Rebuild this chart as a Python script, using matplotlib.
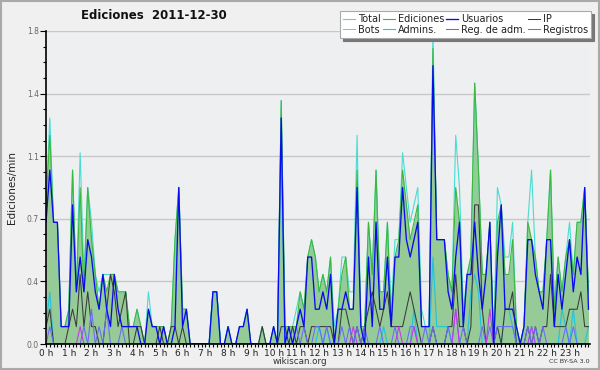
import numpy as np
import matplotlib
matplotlib.use('Agg')
import matplotlib.pyplot as plt
from matplotlib.patches import Rectangle
from matplotlib.ticker import AutoMinorLocator, MultipleLocator

# one value per 10 minutes, edits per minute (144 bins, 6 per row = 1 hour)
total = [0.8, 1.3, 0.7, 0.7, 0.1, 0.1,
         0.2, 1.0, 0.3, 1.1, 0.4, 0.9,
         0.7, 0.4, 0.3, 0.4, 0.4, 0.4,
         0.4, 0.3, 0.3, 0.3, 0.1, 0.1,
         0.2, 0.1, 0.0, 0.3, 0.1, 0.1,
         0.1, 0.1, 0.0, 0.1, 0.6, 0.9,
         0.2, 0.2, 0.0, 0.0, 0.0, 0.0,
         0.0, 0.0, 0.3, 0.3, 0.0, 0.0,
         0.1, 0.0, 0.0, 0.1, 0.1, 0.2,
         0.0, 0.0, 0.0, 0.1, 0.0, 0.0,
         0.1, 0.0, 1.4, 0.1, 0.1, 0.1,
         0.2, 0.3, 0.2, 0.5, 0.6, 0.5,
         0.3, 0.4, 0.3, 0.5, 0.1, 0.2,
         0.5, 0.5, 0.3, 0.3, 1.2, 0.1,
         0.1, 0.7, 0.4, 1.0, 0.3, 0.3,
         0.7, 0.2, 0.6, 0.6, 1.1, 0.9,
         0.7, 0.8, 0.9, 0.2, 0.1, 0.1,
         1.8, 0.6, 0.6, 0.6, 0.4, 0.3,
         1.2, 0.9, 0.2, 0.4, 0.5, 1.5,
         1.0, 0.4, 0.4, 0.7, 0.0, 0.9,
         0.8, 0.5, 0.5, 0.7, 0.1, 0.0,
         0.1, 0.7, 1.0, 0.5, 0.3, 0.3,
         0.6, 1.0, 0.2, 0.5, 0.3, 0.5,
         0.7, 0.4, 0.7, 0.7, 0.9, 0.3]
ediciones = [0.8, 1.2, 0.7, 0.7, 0.1, 0.1,
             0.2, 1.0, 0.3, 0.9, 0.3, 0.9,
             0.6, 0.4, 0.2, 0.4, 0.3, 0.4,
             0.4, 0.3, 0.3, 0.3, 0.1, 0.1,
             0.2, 0.1, 0.0, 0.2, 0.1, 0.1,
             0.1, 0.1, 0.0, 0.1, 0.6, 0.9,
             0.2, 0.2, 0.0, 0.0, 0.0, 0.0,
             0.0, 0.0, 0.3, 0.3, 0.0, 0.0,
             0.1, 0.0, 0.0, 0.1, 0.1, 0.2,
             0.0, 0.0, 0.0, 0.1, 0.0, 0.0,
             0.1, 0.0, 1.4, 0.1, 0.1, 0.1,
             0.1, 0.3, 0.2, 0.5, 0.6, 0.5,
             0.3, 0.4, 0.3, 0.5, 0.0, 0.2,
             0.4, 0.5, 0.2, 0.2, 1.0, 0.1,
             0.1, 0.7, 0.4, 1.0, 0.3, 0.3,
             0.7, 0.1, 0.5, 0.6, 1.0, 0.8,
             0.6, 0.7, 0.8, 0.1, 0.1, 0.1,
             1.7, 0.6, 0.6, 0.6, 0.4, 0.3,
             0.9, 0.7, 0.1, 0.4, 0.5, 1.5,
             1.0, 0.4, 0.4, 0.7, 0.0, 0.7,
             0.8, 0.4, 0.4, 0.6, 0.1, 0.0,
             0.1, 0.7, 0.6, 0.5, 0.3, 0.3,
             0.6, 1.0, 0.2, 0.5, 0.3, 0.5,
             0.6, 0.4, 0.7, 0.7, 0.9, 0.3]
usuarios = [0.7, 1.0, 0.7, 0.7, 0.1, 0.1,
            0.1, 0.8, 0.3, 0.5, 0.3, 0.6,
            0.5, 0.3, 0.2, 0.4, 0.2, 0.1,
            0.4, 0.2, 0.1, 0.1, 0.1, 0.1,
            0.1, 0.0, 0.0, 0.2, 0.1, 0.1,
            0.0, 0.1, 0.0, 0.0, 0.1, 0.9,
            0.1, 0.2, 0.0, 0.0, 0.0, 0.0,
            0.0, 0.0, 0.3, 0.3, 0.0, 0.0,
            0.1, 0.0, 0.0, 0.1, 0.1, 0.2,
            0.0, 0.0, 0.0, 0.0, 0.0, 0.0,
            0.1, 0.0, 1.3, 0.0, 0.1, 0.0,
            0.1, 0.2, 0.1, 0.5, 0.5, 0.2,
            0.2, 0.3, 0.2, 0.4, 0.0, 0.2,
            0.2, 0.3, 0.2, 0.2, 0.9, 0.1,
            0.0, 0.5, 0.1, 0.7, 0.2, 0.2,
            0.5, 0.1, 0.5, 0.5, 0.9, 0.6,
            0.5, 0.6, 0.7, 0.1, 0.1, 0.1,
            1.6, 0.6, 0.6, 0.6, 0.3, 0.2,
            0.5, 0.7, 0.1, 0.4, 0.4, 0.7,
            0.4, 0.2, 0.4, 0.7, 0.0, 0.5,
            0.8, 0.2, 0.2, 0.2, 0.1, 0.0,
            0.1, 0.6, 0.6, 0.4, 0.3, 0.2,
            0.6, 0.6, 0.1, 0.4, 0.2, 0.4,
            0.6, 0.3, 0.5, 0.4, 0.9, 0.2]
ip = [0.1, 0.2, 0.0, 0.0, 0.0, 0.0,
      0.1, 0.2, 0.1, 0.4, 0.1, 0.3,
      0.1, 0.1, 0.0, 0.0, 0.2, 0.4,
      0.3, 0.1, 0.2, 0.3, 0.0, 0.0,
      0.1, 0.1, 0.0, 0.0, 0.0, 0.0,
      0.1, 0.0, 0.0, 0.1, 0.1, 0.0,
      0.1, 0.0, 0.0, 0.0, 0.0, 0.0,
      0.0, 0.0, 0.0, 0.0, 0.0, 0.0,
      0.0, 0.0, 0.0, 0.0, 0.0, 0.0,
      0.0, 0.0, 0.0, 0.1, 0.0, 0.0,
      0.0, 0.0, 0.1, 0.1, 0.0, 0.1,
      0.0, 0.1, 0.1, 0.0, 0.1, 0.1,
      0.1, 0.1, 0.1, 0.1, 0.0, 0.0,
      0.2, 0.2, 0.1, 0.0, 0.1, 0.0,
      0.1, 0.2, 0.3, 0.2, 0.1, 0.2,
      0.3, 0.1, 0.1, 0.1, 0.1, 0.2,
      0.3, 0.2, 0.1, 0.0, 0.0, 0.0,
      0.1, 0.0, 0.0, 0.0, 0.1, 0.1,
      0.4, 0.1, 0.1, 0.0, 0.1, 0.8,
      0.8, 0.2, 0.0, 0.0, 0.0, 0.1,
      0.0, 0.2, 0.2, 0.3, 0.0, 0.0,
      0.0, 0.1, 0.0, 0.1, 0.0, 0.1,
      0.1, 0.4, 0.1, 0.1, 0.1, 0.1,
      0.2, 0.2, 0.2, 0.3, 0.1, 0.1]
bots = [0.0] * 144
admins = [0.1, 0.3, 0.0, 0.0, 0.0, 0.0,
          0.0, 0.0, 0.0, 0.0, 0.0, 0.0,
          0.0, 0.0, 0.0, 0.0, 0.0, 0.0,
          0.0, 0.0, 0.0, 0.0, 0.0, 0.0,
          0.0, 0.0, 0.0, 0.0, 0.0, 0.0,
          0.0, 0.0, 0.0, 0.0, 0.0, 0.0,
          0.0, 0.0, 0.0, 0.0, 0.0, 0.0,
          0.0, 0.0, 0.3, 0.3, 0.0, 0.0,
          0.0, 0.0, 0.0, 0.0, 0.0, 0.0,
          0.0, 0.0, 0.0, 0.0, 0.0, 0.0,
          0.0, 0.0, 1.2, 0.0, 0.0, 0.0,
          0.0, 0.0, 0.0, 0.0, 0.0, 0.0,
          0.1, 0.0, 0.1, 0.0, 0.0, 0.0,
          0.0, 0.0, 0.0, 0.0, 0.0, 0.0,
          0.0, 0.0, 0.0, 0.0, 0.0, 0.1,
          0.0, 0.0, 0.0, 0.0, 0.0, 0.0,
          0.0, 0.2, 0.0, 0.0, 0.0, 0.0,
          0.5, 0.1, 0.1, 0.1, 0.1, 0.0,
          0.0, 0.0, 0.0, 0.0, 0.3, 0.4,
          0.3, 0.0, 0.0, 0.0, 0.0, 0.0,
          0.0, 0.2, 0.2, 0.1, 0.0, 0.0,
          0.0, 0.0, 0.1, 0.0, 0.0, 0.0,
          0.0, 0.0, 0.0, 0.0, 0.2, 0.1,
          0.0, 0.2, 0.0, 0.0, 0.0, 0.1]
reg_adm = [0.0] * 9 + [0.1] + [0.0] * 71 + [0.1] + [0.0] * 11 + [0.1] + [0.0] * 3 + [0.1] + \
          [0.0] * 10 + [0.2] + [0.0] * 8 + [0.2] + [0.0] * 10 + [0.1] + [0.0] * 15
registros = [0.0, 0.1, 0.0, 0.0, 0.0, 0.0,
             0.0, 0.0, 0.0, 0.0, 0.1, 0.0,
             0.2, 0.0, 0.1, 0.0, 0.2, 0.0,
             0.0, 0.0, 0.1, 0.0, 0.0, 0.0,
             0.0, 0.0, 0.0, 0.0, 0.0, 0.0,
             0.0, 0.0, 0.0, 0.0, 0.0, 0.0,
             0.0, 0.0, 0.0, 0.0, 0.0, 0.0,
             0.0, 0.0, 0.0, 0.0, 0.0, 0.0,
             0.0, 0.0, 0.0, 0.0, 0.0, 0.0,
             0.0, 0.0, 0.0, 0.0, 0.0, 0.0,
             0.0, 0.0, 0.0, 0.0, 0.0, 0.0,
             0.1, 0.0, 0.1, 0.0, 0.0, 0.1,
             0.1, 0.0, 0.1, 0.0, 0.0, 0.0,
             0.1, 0.0, 0.1, 0.0, 0.1, 0.0,
             0.1, 0.0, 0.0, 0.0, 0.1, 0.0,
             0.0, 0.0, 0.1, 0.0, 0.0, 0.0,
             0.1, 0.1, 0.0, 0.0, 0.1, 0.0,
             0.1, 0.0, 0.0, 0.0, 0.1, 0.0,
             0.2, 0.0, 0.1, 0.0, 0.0, 0.0,
             0.0, 0.1, 0.0, 0.1, 0.0, 0.1,
             0.1, 0.1, 0.1, 0.1, 0.0, 0.0,
             0.0, 0.1, 0.0, 0.1, 0.0, 0.1,
             0.0, 0.0, 0.0, 0.0, 0.0, 0.1,
             0.0, 0.1, 0.0, 0.0, 0.0, 0.0]

hour_labels = ['%d h' % h for h in range(24)]
y_ticks = [0.0, 0.36, 0.72, 1.08, 1.44, 1.8]
title = 'Ediciones  2011-12-30'


def draw_chart():
    x = np.arange(len(total)) / 6.0  # bins of 10 minutes, in hours

    fig = plt.figure(figsize=(6, 3.7), dpi=100, facecolor='#f0f0f0')
    ax = fig.add_axes([46 / 600, 1 - 344 / 370, 544 / 600, 313 / 370])
    ax.set_facecolor('#eeeff1')

    # grid below everything
    for yt in y_ticks[1:]:
        ax.axhline(yt, color='#c8c8c8', lw=1.0, zorder=0)

    # series
    ax.fill_between(x, ediciones, color='#96ca96', lw=0, zorder=1)
    ax.plot(x, bots, color='#ff9933', lw=0.7, zorder=1.5, label='Bots')
    ax.plot(x, total, color='#48dcd2', lw=0.8, zorder=2, label='Total')
    ax.plot(x, ediciones, color='#3cb83c', lw=0.8, zorder=2.1, label='Ediciones')
    ax.plot(x, admins, color='#22c4dc', lw=0.8, zorder=2.2, label='Admins.')
    ax.plot(x, ip, color='#3a3a3a', lw=0.75, zorder=2.3, label='IP')
    ax.plot(x, registros, color='#6a6aff', lw=0.75, zorder=2.35, label='Registros')
    ax.plot(x, reg_adm, color='#cc33ee', lw=0.75, zorder=2.4, label='Reg. de adm.')
    ax.plot(x, usuarios, color='#0a0aee', lw=0.95, zorder=2.45, label='Usuarios')

    ax.set_xlim(0, 143.4 / 6)
    ax.set_ylim(0, 1.8)

    for s in ['top', 'right']:
        ax.spines[s].set_visible(False)
    for s in ['left', 'bottom']:
        ax.spines[s].set_linewidth(1.2)
        ax.spines[s].set_zorder(3)

    ax.set_xticks(range(24))
    ax.set_xticklabels(hour_labels)
    ax.xaxis.set_minor_locator(MultipleLocator(1 / 6))
    ax.tick_params(axis='x', which='both', direction='out', length=2.5, width=0.8,
                   labelsize=6.5, labelcolor='#222222', pad=1)
    ax.set_yticks(y_ticks)
    ax.set_yticklabels(['%.1f' % v for v in y_ticks])
    ax.yaxis.set_minor_locator(AutoMinorLocator(4))
    ax.tick_params(axis='y', which='major', direction='out', length=4, width=0.8,
                   labelsize=5.5, labelcolor='#666666', pad=1)
    ax.tick_params(axis='y', which='minor', direction='out', length=2, width=0.8)

    fig.text(0.02, 0.493, 'Ediciones/min', rotation=90, ha='center', va='center',
             fontsize=7.5, color='#222222')
    fig.text(0.257, 0.957, title, ha='center', va='center', fontsize=8.5,
             fontweight='bold', color='#111111')
    fig.text(0.5, 0.024, 'wikiscan.org', ha='center', va='center', fontsize=6.3, color='#333333')
    fig.text(0.982, 0.022, 'CC BY-SA 3.0', ha='right', va='center', fontsize=4.6, color='#333333')

    # legend, column-wise order
    h = {l.get_label(): l for l in ax.get_lines()}
    order = ['Total', 'Bots', 'Ediciones', 'Admins.', 'Usuarios', 'Reg. de adm.', 'IP', 'Registros']
    leg = fig.legend([h[k] for k in order], order, ncol=4, loc='upper right',
                     bbox_to_anchor=(591 / 600, 1 - 11 / 370), fontsize=7.0,
                     frameon=True, fancybox=False, shadow={'color': '#777777', 'alpha': 1},
                     handlelength=1.2, handletextpad=0.35, columnspacing=0.2,
                     labelspacing=0.1, borderpad=0.3, borderaxespad=0)
    leg.get_frame().set_edgecolor('#aaaaaa')
    leg.get_frame().set_linewidth(0.8)
    leg.get_frame().set_facecolor('white')
    for t in leg.get_texts():
        t.set_color('#222222')

    # grey border round the picture
    fig.patches.append(Rectangle((0.002, 0.003), 0.996, 0.994, transform=fig.transFigure,
                                 fill=False, edgecolor='#aaaaaa', lw=1.5))

    plt.savefig('out.png', dpi=100, facecolor=fig.get_facecolor())
    plt.close()


if __name__ == '__main__':
    draw_chart()
